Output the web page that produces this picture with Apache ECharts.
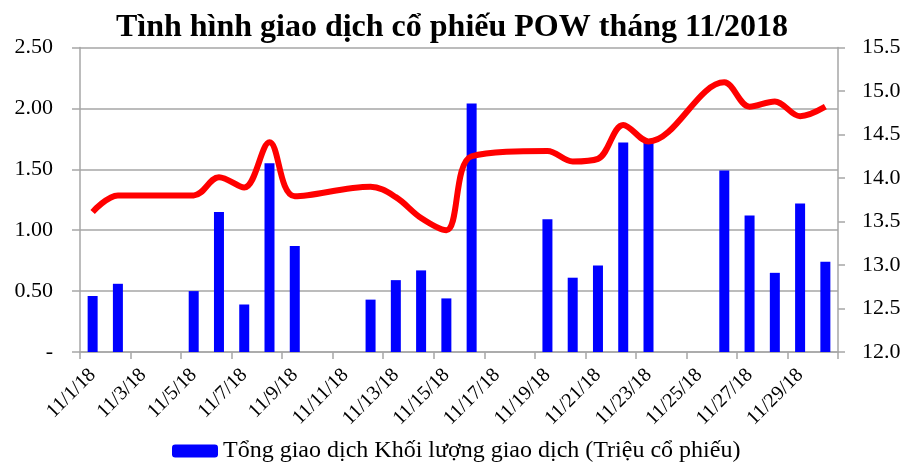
<!DOCTYPE html>
<html>
<head>
<meta charset="utf-8">
<script src="https://cdn.jsdelivr.net/npm/echarts@6/dist/echarts.min.js"></script>
<style>
  html, body { margin: 0; padding: 0; background: #fff; }
  #main { width: 904px; height: 466px; }
</style>
</head>
<body>
<div id="main"></div>
<script>
var dates = ['11/1/18', '11/2/18', '11/3/18', '11/4/18', '11/5/18', '11/6/18', '11/7/18', '11/8/18',
    '11/9/18', '11/10/18', '11/11/18', '11/12/18', '11/13/18', '11/14/18', '11/15/18', '11/16/18',
    '11/17/18', '11/18/18', '11/19/18', '11/20/18', '11/21/18', '11/22/18', '11/23/18', '11/24/18',
    '11/25/18', '11/26/18', '11/27/18', '11/28/18', '11/29/18', '11/30/18'];

// million shares traded (left axis), weekends empty
var volume = [0.46, 0.56, null, null, 0.50, 1.15, 0.39, 1.55,
    0.87, null, null, 0.43, 0.59, 0.67, 0.44, 2.04,
    null, null, 1.09, 0.61, 0.71, 1.72, 1.72, null,
    null, 1.49, 1.12, 0.65, 1.22, 0.74];

// closing price (right axis)
var price = [13.61, 13.80, null, null, 13.80, 14.01, 13.89, 14.41,
    13.79, null, null, 13.90, 13.78, 13.54, 13.40, 14.25,
    null, null, 14.31, 14.19, 14.22, 14.61, 14.42, null,
    null, 15.10, 14.82, 14.88, 14.71, 14.82];

var volumeName = 'Tổng giao dịch Khối lượng giao dịch (Triệu cổ phiếu)';
var priceName = 'Giá đóng cửa';

var font = '"Liberation Serif", "DejaVu Serif", serif';
var gridColor = '#a6a6a6';

var myChart = echarts.init(document.getElementById('main'));

var option = {
    animation: false,
    title: {
        text: 'Tình hình giao dịch cổ phiếu POW tháng 11/2018',
        left: 'center',
        top: 7,
        textStyle: {
            fontFamily: font,
            fontWeight: 'bold',
            fontSize: 32,
            color: '#000'
        }
    },
    legend: {
        data: [volumeName],
        top: 434,
        left: 167,
        itemWidth: 46,
        itemHeight: 13,
        itemGap: 8,
        textStyle: {
            fontFamily: font,
            fontSize: 24,
            color: '#000'
        }
    },
    grid: {
        left: 80,
        right: 66,
        top: 47.5,
        bottom: 114,
        containLabel: false
    },
    xAxis: [{
        type: 'category',
        data: dates,
        boundaryGap: true,
        axisLine: { lineStyle: { color: gridColor, width: 1.5 } },
        axisTick: { show: true, interval: 1, length: 7, lineStyle: { color: gridColor, width: 1.5 } },
        axisLabel: {
            interval: 1,
            rotate: 45,
            margin: 20,
            fontFamily: font,
            fontSize: 20,
            color: '#000'
        },
        splitLine: { show: false }
    }],
    yAxis: [{
        type: 'value',
        min: 0,
        max: 2.5,
        interval: 0.5,
        position: 'left',
        axisLine: { show: true, lineStyle: { color: gridColor, width: 1.5 } },
        axisTick: { show: true, length: 8, lineStyle: { color: gridColor, width: 1.5 } },
        axisLabel: {
            margin: 27,
            fontFamily: font,
            fontSize: 22,
            color: '#000',
            formatter: function(v) {
                return v === 0 ? '-' : v.toFixed(2);
            }
        },
        splitLine: { show: true, lineStyle: { color: gridColor, width: 1.5 } }
    }, {
        type: 'value',
        min: 12,
        max: 15.5,
        interval: 0.5,
        position: 'right',
        axisLine: { show: true, lineStyle: { color: gridColor, width: 1.5 } },
        axisTick: { show: true, length: 7, lineStyle: { color: gridColor, width: 1.5 } },
        axisLabel: {
            margin: 24,
            fontFamily: font,
            fontSize: 22,
            color: '#000',
            formatter: function(v) {
                return v.toFixed(1);
            }
        },
        splitLine: { show: false }
    }],
    series: [{
        name: volumeName,
        type: 'bar',
        yAxisIndex: 0,
        barWidth: 10,
        itemStyle: { color: '#0000ff' },
        data: volume
    }, {
        name: priceName,
        type: 'line',
        yAxisIndex: 1,
        smooth: 0.35,
        connectNulls: true,
        symbol: 'none',
        lineStyle: { color: '#ff0000', width: 6 },
        itemStyle: { color: '#ff0000' },
        data: price
    }]
};

myChart.setOption(option);
</script>
</body>
</html>
